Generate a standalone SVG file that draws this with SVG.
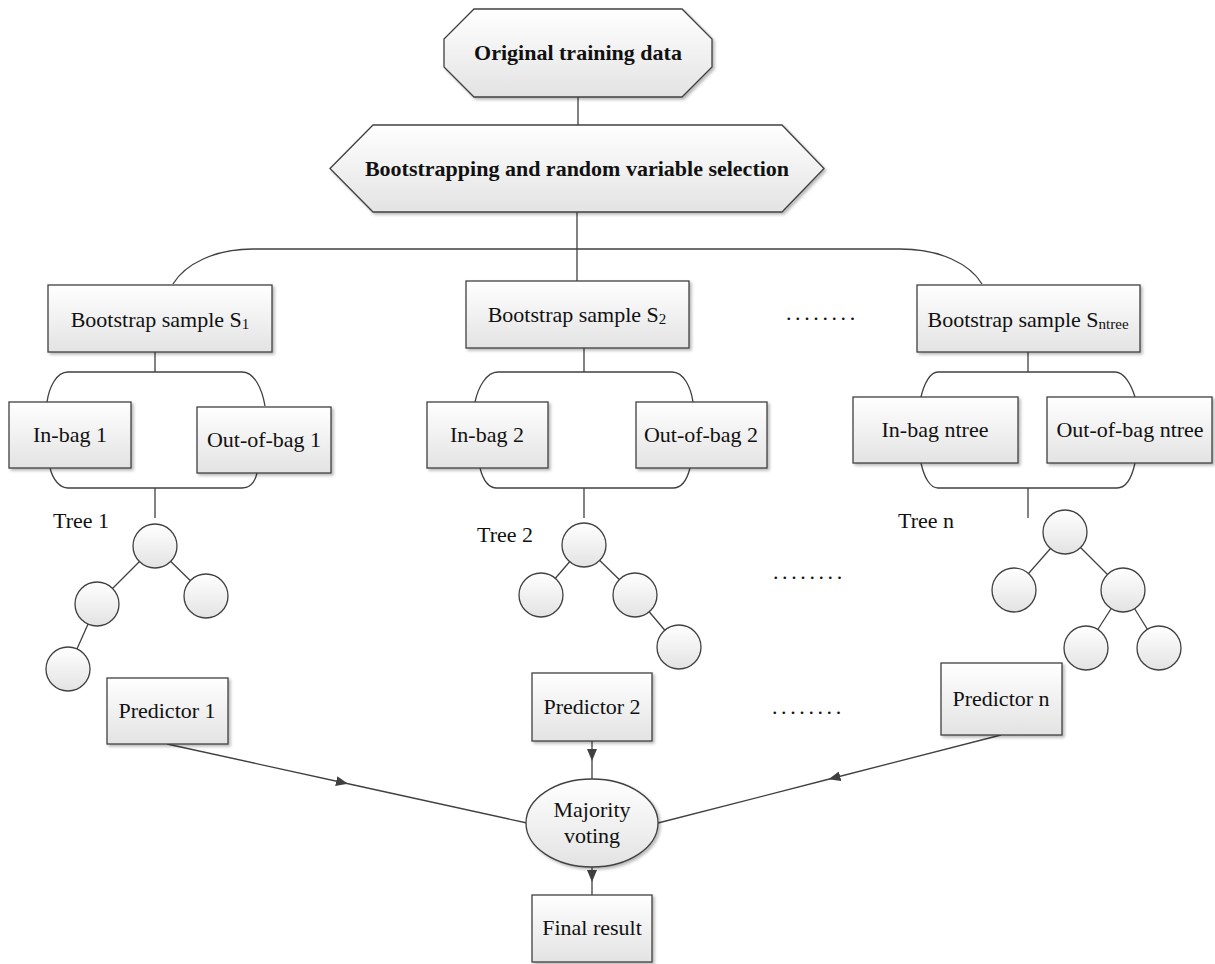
<svg xmlns="http://www.w3.org/2000/svg" width="1215" height="964" viewBox="0 0 1215 964">
  <defs>
    <linearGradient id="fillGrad" x1="0" y1="0" x2="0" y2="1">
      <stop offset="0" stop-color="#ffffff"/>
      <stop offset="1" stop-color="#e3e3e3"/>
    </linearGradient>
    <filter id="shadow" x="-10%" y="-10%" width="130%" height="130%">
      <feDropShadow dx="2" dy="2" stdDeviation="1.4" flood-color="#000" flood-opacity="0.28"/>
    </filter>
    <marker id="arrow" viewBox="0 0 12 10" refX="11" refY="5" markerWidth="12" markerHeight="10" markerUnits="userSpaceOnUse" orient="auto">
      <path d="M0,0 L12,5 L0,10 Z" fill="#404040"/>
    </marker>
    <style>
      .shape { fill: url(#fillGrad); stroke: #404040; stroke-width: 1.3; filter: url(#shadow); }
      .node { fill: url(#fillGrad); stroke: #404040; stroke-width: 1.3; }
      .ln { fill: none; stroke: #404040; stroke-width: 1.3; }
      .arr { fill: none; stroke: #404040; stroke-width: 1.3; marker-mid: url(#arrow); }
      .t { font-family: "Liberation Serif", "Times New Roman", serif; font-size: 22px; fill: #111; text-anchor: middle; }
      .lbl { font-family: "Liberation Serif", "Times New Roman", serif; font-size: 22px; fill: #111; }
      .b { font-weight: bold; }
      .sub { font-size: 15px; }
      .dots { font-family: "Liberation Serif", "Times New Roman", serif; font-size: 22px; fill: #111; letter-spacing: 3.6px; }
    </style>
  </defs>

  <!-- connectors -->
  <g id="connectors">
    <line class="ln" x1="578" y1="97" x2="578" y2="125"/>
    <line class="ln" x1="577" y1="212" x2="577" y2="281"/>
    <!-- fan-out bar to the bootstrap samples -->
    <path class="ln" d="M173 284 C185 264 215 249 253 249 L900 249 C940 249 970 264 982 284"/>

    <!-- column 1 -->
    <line class="ln" x1="155" y1="352" x2="155" y2="372"/>
    <path class="ln" d="M47 402 C49 388 56 372 68 372 L242 372 C254 372 262 388 265 406"/>
    <path class="ln" d="M50 468 C53 480 60 488 68 488 L242 488 C250 488 255 482 257 473"/>
    <line class="ln" x1="155" y1="488" x2="155" y2="518"/>
    <line class="ln" x1="155" y1="546" x2="97" y2="604"/>
    <line class="ln" x1="155" y1="546" x2="206" y2="596"/>
    <line class="ln" x1="97" y1="604" x2="68" y2="669"/>

    <!-- column 2 -->
    <line class="ln" x1="584" y1="348" x2="584" y2="372"/>
    <path class="ln" d="M475 402 C478 388 486 372 498 372 L672 372 C684 372 691 388 693 402"/>
    <path class="ln" d="M480 468 C483 480 489 488 497 488 L673 488 C681 488 687 480 690 468"/>
    <line class="ln" x1="584" y1="488" x2="584" y2="518"/>
    <line class="ln" x1="584" y1="545" x2="541" y2="595"/>
    <line class="ln" x1="584" y1="545" x2="635" y2="595"/>
    <line class="ln" x1="635" y1="595" x2="679" y2="647"/>

    <!-- column n -->
    <line class="ln" x1="1028" y1="352" x2="1028" y2="372"/>
    <path class="ln" d="M921 397 C924 384 930 372 938 372 L1115 372 C1124 372 1131 384 1135 397"/>
    <path class="ln" d="M921 463 C924 477 930 488 938 488 L1117 488 C1126 488 1132 477 1135 463"/>
    <line class="ln" x1="1028" y1="488" x2="1028" y2="518"/>
    <line class="ln" x1="1065" y1="532" x2="1014" y2="590"/>
    <line class="ln" x1="1065" y1="532" x2="1123" y2="590"/>
    <line class="ln" x1="1123" y1="590" x2="1086" y2="648"/>
    <line class="ln" x1="1123" y1="590" x2="1159" y2="648"/>

    <!-- predictors to the vote and the vote to the result -->
    <path class="arr" d="M167 744 L347 783.5 L527 823"/>
    <path class="arr" d="M592 741 L592 760 L592 779"/>
    <path class="arr" d="M1001 735 L829.5 779 L658 823"/>
    <path class="arr" d="M592 867 L592 881 L592 895"/>
  </g>

  <!-- top of the flow -->
  <g id="original-data">
    <polygon class="shape" points="474,9 682,9 712,39 712,67 682,97 474,97 444,67 444,39"/>
    <text class="t b" x="578" y="60">Original training data</text>
  </g>
  <g id="bootstrapping">
    <polygon class="shape" points="330,168.5 373,125 782,125 824,168.5 782,212 373,212"/>
    <text class="t b" x="577" y="176">Bootstrapping and random variable selection</text>
  </g>

  <!-- bootstrap samples -->
  <g id="sample-1">
    <rect class="shape" x="48" y="285" width="224" height="67"/>
    <text class="t" x="160" y="327">Bootstrap sample S<tspan class="sub" dy="2">1</tspan></text>
  </g>
  <g id="sample-2">
    <rect class="shape" x="466" y="281" width="223" height="67"/>
    <text class="t" x="577" y="322">Bootstrap sample S<tspan class="sub" dy="2">2</tspan></text>
  </g>
  <g id="sample-ntree">
    <rect class="shape" x="917" y="285" width="223" height="67"/>
    <text class="t" x="1028" y="327">Bootstrap sample S<tspan class="sub" dy="2">ntree</tspan></text>
  </g>

  <!-- in-bag / out-of-bag splits -->
  <g id="inbag-1">
    <rect class="shape" x="9" y="402" width="122" height="66"/>
    <text class="t" x="70" y="442">In-bag 1</text>
  </g>
  <g id="oob-1">
    <rect class="shape" x="197" y="407" width="134" height="66"/>
    <text class="t" x="264" y="447">Out-of-bag 1</text>
  </g>
  <g id="inbag-2">
    <rect class="shape" x="427" y="402" width="121" height="66"/>
    <text class="t" x="487" y="442">In-bag 2</text>
  </g>
  <g id="oob-2">
    <rect class="shape" x="636" y="402" width="131" height="66"/>
    <text class="t" x="701" y="442">Out-of-bag 2</text>
  </g>
  <g id="inbag-ntree">
    <rect class="shape" x="853" y="397" width="165" height="66"/>
    <text class="t" x="935" y="437">In-bag ntree</text>
  </g>
  <g id="oob-ntree">
    <rect class="shape" x="1047" y="397" width="165" height="66"/>
    <text class="t" x="1130" y="437">Out-of-bag ntree</text>
  </g>

  <!-- trees -->
  <g id="tree-1">
    <text class="lbl" x="53" y="528">Tree 1</text>
    <circle class="node" cx="155" cy="546" r="22"/>
    <circle class="node" cx="97" cy="604" r="22"/>
    <circle class="node" cx="206" cy="596" r="22"/>
    <circle class="node" cx="68" cy="669" r="22"/>
  </g>
  <g id="tree-2">
    <text class="lbl" x="477" y="542">Tree 2</text>
    <circle class="node" cx="584" cy="545" r="22"/>
    <circle class="node" cx="541" cy="595" r="22"/>
    <circle class="node" cx="635" cy="595" r="22"/>
    <circle class="node" cx="679" cy="647" r="22"/>
  </g>
  <g id="tree-n">
    <text class="lbl" x="898" y="528">Tree n</text>
    <circle class="node" cx="1065" cy="532" r="22"/>
    <circle class="node" cx="1014" cy="590" r="22"/>
    <circle class="node" cx="1123" cy="590" r="22"/>
    <circle class="node" cx="1086" cy="648" r="22"/>
    <circle class="node" cx="1159" cy="648" r="22"/>
  </g>

  <!-- ellipsis markers between columns -->
  <g id="ellipses">
    <text class="dots" x="786" y="320">........</text>
    <text class="dots" x="773" y="579">........</text>
    <text class="dots" x="772" y="714">........</text>
  </g>

  <!-- predictors -->
  <g id="predictor-1">
    <rect class="shape" x="107" y="678" width="121" height="66"/>
    <text class="t" x="167" y="718">Predictor 1</text>
  </g>
  <g id="predictor-2">
    <rect class="shape" x="532" y="673" width="120" height="68"/>
    <text class="t" x="592" y="714">Predictor 2</text>
  </g>
  <g id="predictor-n">
    <rect class="shape" x="941" y="663" width="121" height="72"/>
    <text class="t" x="1001" y="706">Predictor n</text>
  </g>

  <!-- aggregation -->
  <g id="majority-voting">
    <ellipse class="shape" cx="592" cy="823" rx="66" ry="44"/>
    <text class="t" x="592" y="817">Majority</text>
    <text class="t" x="592" y="843">voting</text>
  </g>
  <g id="final-result">
    <rect class="shape" x="532" y="895" width="120" height="67"/>
    <text class="t" x="592" y="935">Final result</text>
  </g>
</svg>
